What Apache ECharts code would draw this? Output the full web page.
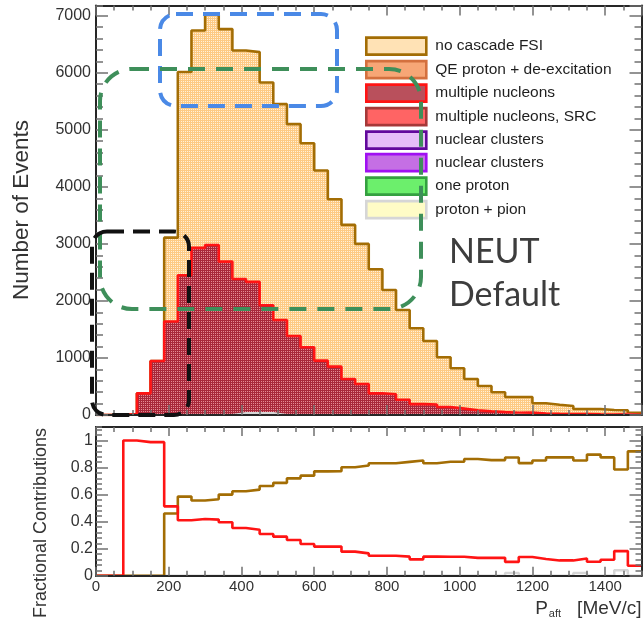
<!DOCTYPE html>
<html>
<head>
<meta charset="utf-8">
<script src="https://cdn.jsdelivr.net/npm/echarts@6/dist/echarts.min.js"></script>
<style>
  html, body { margin: 0; padding: 0; background: #ffffff; }
  #chart { width: 644px; height: 622px; }
</style>
</head>
<body>
<div id="chart"></div>
<script>
// Bin edges of the proton momentum histogram, MeV/c (40 bins of 37.5)
const binEdges = [0, 37.5, 75, 112.5, 150, 187.5, 225, 262.5, 300, 337.5,
  375, 412.5, 450, 487.5, 525, 562.5, 600, 637.5, 675, 712.5,
  750, 787.5, 825, 862.5, 900, 937.5, 975, 1012.5, 1050, 1087.5,
  1125, 1162.5, 1200, 1237.5, 1275, 1312.5, 1350, 1387.5, 1425, 1462.5, 1500];

// Event counts per bin for each FSI channel
const protonPion = [0, 0, 0, 0, 0, 0, 0, 0, 0, 0,
  35, 35, 35, 0, 0, 0, 0, 0, 0, 0,
  0, 0, 0, 0, 0, 0, 0, 0, 0, 0,
  6, 0, 0, 0, 0, 2, 0, 0, 3, 0];
const multiNucleons = [0, 0, 15, 380, 947, 1640, 2450, 2930, 2980, 2690,
  2350, 2300, 1890, 1667, 1386, 1187, 953, 848, 632, 544,
  380, 365, 268, 190, 185, 140, 112, 83, 67, 52,
  32, 43, 25, 21, 18, 13, 11, 10, 15, 3];
const noCascade = [0, 0, 0, 0, 0, 1470, 3565, 3812, 4043, 4076,
  4007, 4028, 3905, 3783, 3714, 3579, 3333, 2936, 2701, 2456,
  2176, 1828, 1574, 1330, 1113, 872, 707, 549, 442, 346,
  278, 273, 180, 160, 140, 90, 94, 78, 64, 37];

// Fractional contribution of each channel per bin
const fracNoCascade = [0, 0, 0, 0, 0, 0.46, 0.585, 0.556, 0.565, 0.60,
  0.625, 0.637, 0.664, 0.687, 0.72, 0.74, 0.772, 0.773, 0.802, 0.815,
  0.832, 0.832, 0.842, 0.852, 0.832, 0.843, 0.843, 0.863, 0.855, 0.855,
  0.874, 0.833, 0.852, 0.875, 0.875, 0.852, 0.896, 0.875, 0.786, 0.92];
const fracMulti = [0, 0, 1.0, 0.988, 0.988, 0.513, 0.41, 0.42, 0.415, 0.395,
  0.353, 0.34, 0.309, 0.289, 0.264, 0.235, 0.215, 0.216, 0.178, 0.165,
  0.148, 0.148, 0.141, 0.121, 0.141, 0.14, 0.14, 0.132, 0.132, 0.132,
  0.102, 0.138, 0.124, 0.113, 0.113, 0.127, 0.103, 0.118, 0.182, 0.074];
const fracProtonPion = [0, 0, 0, 0, 0, 0, 0, 0, 0, 0,
  0, 0, 0, 0, 0, 0, 0, 0, 0, 0,
  0, 0, 0, 0, 0, 0, 0, 0, 0, 0,
  0.02, 0, 0, 0, 0, 0.02, 0, 0, 0.04, 0];

const legendNames = ['no cascade FSI', 'QE proton + de-excitation', 'multiple nucleons',
  'multiple nucleons, SRC', 'nuclear clusters', 'nuclear clusters', 'one proton', 'proton + pion'];
const annotationText = ['NEUT', 'Default'];

const FONT = '"Liberation Sans", Arial, Helvetica, sans-serif';
const FRAME = '#262626';
const TICK = '#707070';
const BROWN = '#a36d04';
const RED = '#ff1414';

// fine dotted fill, like the ROOT hatch style
function dotPattern(base, dot) {
  const c = document.createElement('canvas');
  c.width = 2; c.height = 2;
  const g = c.getContext('2d');
  g.fillStyle = base; g.fillRect(0, 0, 2, 2);
  g.fillStyle = dot; g.fillRect(1, 1, 1, 1);
  return { image: c, repeat: 'repeat' };
}

// running stack: proton+pion at the bottom, then multiple nucleons, then no cascade
const stackPP = protonPion.slice();
const stackMulti = protonPion.map((v, i) => v + multiNucleons[i]);
const stackTotal = stackMulti.map((v, i) => v + noCascade[i]);

// histogram outline: one point per left bin edge plus the closing right edge
function stepData(vals) {
  return binEdges.map((e, i) => [e, vals[Math.min(i, vals.length - 1)]]);
}

function axisPair(grid, pos, min, max, major, minor, majorLen, minorLen, label) {
  const base = {
    type: 'value', gridIndex: grid, position: pos, min: min, max: max, z: 10,
    splitLine: { show: false }
  };
  const maj = Object.assign({}, base, {
    interval: major,
    axisLine: { show: true, onZero: false, lineStyle: { color: FRAME, width: 2 } },
    axisTick: { show: true, inside: true, length: majorLen, lineStyle: { color: TICK, width: 1.5 } },
    axisLabel: label ? Object.assign({ show: true, showMaxLabel: false, color: '#333',
      fontFamily: FONT, formatter: v => String(v) }, label) : { show: false }
  });
  const mnr = Object.assign({}, base, {
    interval: minor,
    axisLine: { show: false, onZero: false },
    axisTick: { show: true, inside: true, length: minorLen, lineStyle: { color: TICK, width: 1.5 } },
    axisLabel: { show: false }
  });
  return [maj, mnr];
}

const xAxes = [].concat(
  axisPair(0, 'bottom', 0, 1500, 200, 50, 10, 5, null),
  axisPair(0, 'top', 0, 1500, 200, 50, 10, 5, null),
  axisPair(1, 'bottom', 0, 1500, 200, 50, 9, 5, { fontSize: 15, margin: 4 }),
  axisPair(1, 'top', 0, 1500, 200, 50, 9, 5, null)
);
xAxes[4].name = '{p|P}{s|aft}{u|[MeV/c]}';
xAxes[4].nameLocation = 'end';
xAxes[4].nameGap = 0;
xAxes[4].nameTextStyle = {
  align: 'right', verticalAlign: 'top', padding: [22, 0, 0, 0],
  rich: {
    p: { fontSize: 19, fontFamily: FONT, color: '#333', lineHeight: 22 },
    s: { fontSize: 11, fontFamily: FONT, color: '#333', lineHeight: 22, verticalAlign: 'bottom', padding: [0, 0, 0, 1] },
    u: { fontSize: 19, fontFamily: FONT, color: '#333', lineHeight: 22, padding: [0, 0, 0, 16] }
  }
};

const yAxes = [].concat(
  axisPair(0, 'left', 0, 7180, 1000, 200, 12, 7, { fontSize: 16, margin: 5 }),
  axisPair(0, 'right', 0, 7180, 1000, 200, 12, 7, null),
  axisPair(1, 'left', 0, 1.1, 0.2, 0.04, 12, 6, { fontSize: 16, margin: 3 }),
  axisPair(1, 'right', 0, 1.1, 0.2, 0.04, 12, 6, null)
);

function histLine(name, vals, color, width, xi, yi, area, z) {
  const s = {
    name: name, type: 'line', step: 'end', data: stepData(vals),
    xAxisIndex: xi, yAxisIndex: yi, symbol: 'none', z: z,
    silent: true, animation: false,
    lineStyle: { color: color, width: width }, itemStyle: { color: color }
  };
  if (area) s.areaStyle = { color: area, opacity: 1, origin: 'start' };
  return s;
}

const series = [
  histLine(legendNames[0], stackTotal, BROWN, 2.6, 0, 0, dotPattern('#fdca84', '#fff1da'), 2),
  histLine(legendNames[2], stackMulti, RED, 2.6, 0, 0, dotPattern('#a8283a', '#e48a94'), 3),
  histLine(legendNames[7], stackPP, '#d6d6d6', 2, 0, 0, '#fffcc8', 4),
  histLine(legendNames[0], fracNoCascade, BROWN, 2.6, 4, 4, null, 3),
  histLine(legendNames[2], fracMulti, RED, 2.6, 4, 4, null, 4),
  histLine(legendNames[7], fracProtonPion, '#d6d6d6', 2.5, 4, 4, null, 2)
];
// channels with no visible entries still own a legend slot
[1, 3, 4, 5, 6].forEach(i => series.push({
  name: legendNames[i], type: 'line', data: [], xAxisIndex: 0, yAxisIndex: 0, symbol: 'none'
}));

const swatch = [
  { color: '#ffe2b5', borderColor: BROWN },
  { color: '#f7a676', borderColor: '#d4703e' },
  { color: '#b9505c', borderColor: RED },
  { color: '#ff6464', borderColor: '#a63838' },
  { color: '#e6bdf8', borderColor: '#62089c' },
  { color: '#c56fe4', borderColor: '#a010f2' },
  { color: '#6cef6c', borderColor: '#34a040' },
  { color: '#fffcc6', borderColor: '#d6d6d6' }
];
function legendItems(from, to) {
  const out = [];
  for (let i = from; i < to; i++) {
    out.push({ name: legendNames[i], icon: 'rect',
      itemStyle: Object.assign({ borderWidth: 2.6 }, swatch[i]) });
  }
  return out;
}
const legendCommon = {
  orient: 'vertical', left: 360, itemWidth: 60, itemHeight: 17, itemGap: 3.9,
  selectedMode: false,
  textStyle: { fontFamily: FONT, fontSize: 15.5, color: '#1e1e1e', lineHeight: 17, padding: [0, 0, 0, 4] }
};

function dashedBox(x, y, w, h, r, color, dash) {
  return {
    type: 'rect', z: 100, silent: true,
    shape: { x: x, y: y, width: w, height: h, r: r },
    style: { fill: null, stroke: color, lineWidth: 4, lineDash: dash }
  };
}

const option = {
  backgroundColor: '#ffffff',
  animation: false,
  grid: [
    { left: 96, top: 5.5, right: 2.5, height: 409.5 },
    { left: 96, top: 427, right: 2.5, height: 148.7 }
  ],
  xAxis: xAxes,
  yAxis: yAxes,
  legend: [
    Object.assign({ top: 31.3, data: legendItems(0, 5) }, legendCommon),
    Object.assign({ top: 147.8, data: legendItems(5, 8) }, legendCommon)
  ],
  series: series,
  graphic: [
    { type: 'text', x: 22, y: 210, rotation: Math.PI / 2, silent: true,
      style: { text: 'Number of Events', font: '22.5px ' + FONT, fill: '#333',
        align: 'center', verticalAlign: 'middle' } },
    { type: 'text', x: 41.5, y: 428, rotation: Math.PI / 2, silent: true,
      style: { text: 'Fractional Contributions', font: '18px ' + FONT, fill: '#333',
        align: 'right', verticalAlign: 'middle' } },
    { type: 'text', x: 449, y: 252, silent: true, z: 100,
      style: { text: annotationText[0], font: '34px Lato, "Open Sans", sans-serif', fill: '#3d3d3d',
        align: 'left', verticalAlign: 'middle' } },
    { type: 'text', x: 449, y: 295, silent: true, z: 100,
      style: { text: annotationText[1], font: '34px Lato, "Open Sans", sans-serif', fill: '#3d3d3d',
        align: 'left', verticalAlign: 'middle' } },
    dashedBox(160, 14, 177, 92, 16, '#4a89e6', [17, 10]),
    dashedBox(100, 69, 321, 240, 32, '#3e8f5a', [17, 11]),
    dashedBox(92, 231.5, 97, 183.5, 15, '#111111', [17, 9])
  ]
};

const chart = echarts.init(document.getElementById('chart'), null, { renderer: 'canvas' });
chart.setOption(option);
</script>
</body>
</html>
